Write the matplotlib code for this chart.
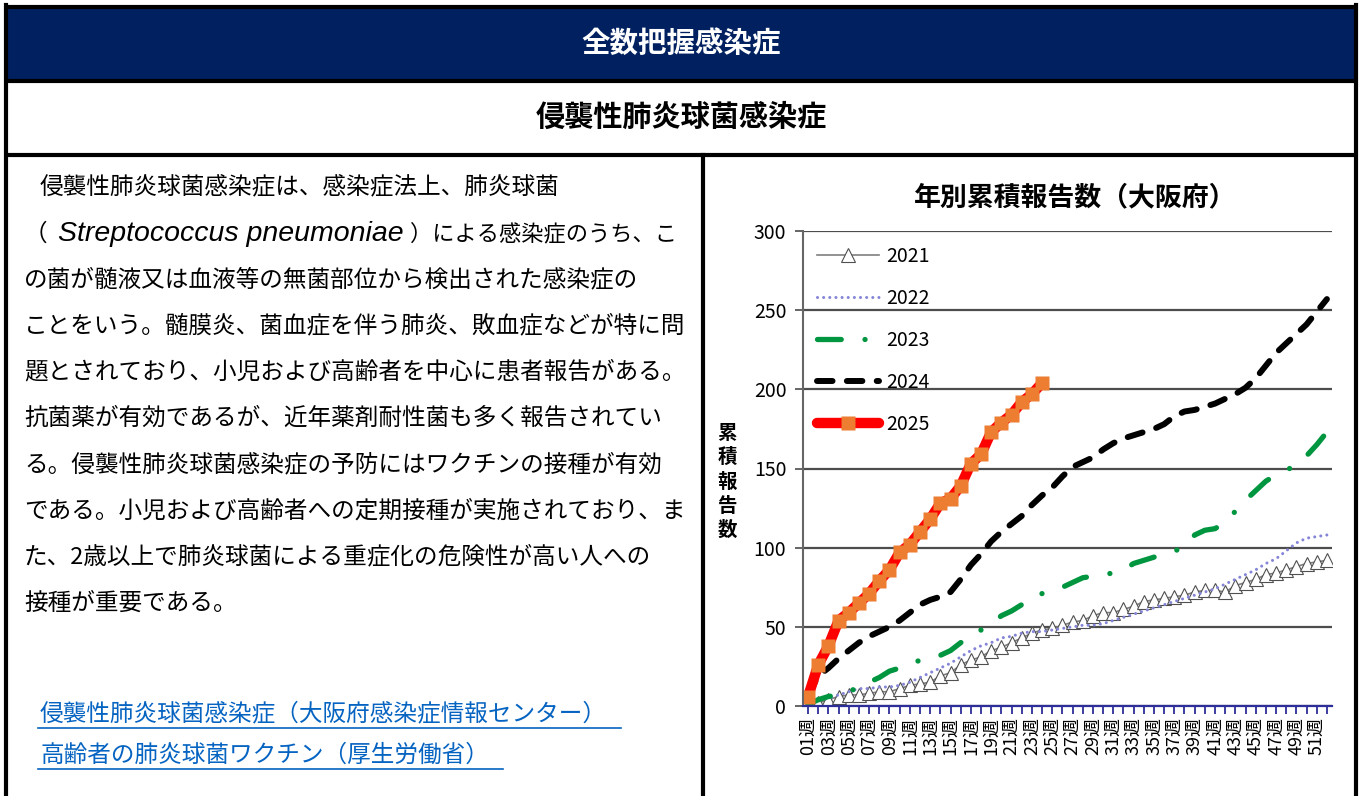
import matplotlib
matplotlib.use('Agg')
import matplotlib.pyplot as plt
from matplotlib.patches import Rectangle

plt.rcParams['font.family'] = ['Noto Sans CJK JP', 'DejaVu Sans']

# cumulative reports per week (Osaka)
weeks = list(range(1, 53))
week_labels = ['%02d週' % w for w in weeks]

cases_2021 = [0, 2, 4, 6, 7, 7, 8, 9, 9, 11, 13, 14, 15, 19, 21, 26, 29, 31, 35, 37,
              40, 43, 46, 48, 49, 51, 53, 54, 57, 59, 59, 61, 63, 66, 67, 68, 69, 70, 72, 73,
              73, 72, 76, 78, 80, 83, 84, 86, 88, 90, 91, 92]
cases_2022 = [1, 3, 5, 7, 9, 11, 11, 12, 12, 13, 15, 18, 21, 24, 27, 31, 35, 38, 40, 43,
              44, 46, 47, 47, 48, 49, 50, 51, 51, 52, 54, 56, 58, 60, 62, 64, 66, 68, 70, 72,
              74, 77, 80, 83, 86, 90, 93, 98, 103, 106, 107, 108]
cases_2023 = [1, 4, 6, 7, 9, 12, 15, 18, 22, 24, 26, 29, 31, 32, 35, 40, 43, 48, 52, 57,
              60, 64, 68, 71, 73, 75, 78, 81, 82, 83, 84, 86, 90, 92, 94, 96, 98, 100, 108, 111,
              112, 116, 123, 130, 136, 142, 146, 149, 152, 158, 165, 173]
cases_2024 = [7, 19, 24, 30, 35, 40, 44, 47, 50, 54, 59, 64, 67, 69, 72, 80, 89, 96, 104, 110,
              115, 120, 127, 133, 138, 145, 151, 154, 157, 162, 166, 169, 171, 173, 175, 178, 183, 186, 187, 189,
              191, 194, 197, 201, 207, 215, 223, 229, 235, 241, 249, 257]
cases_2025 = [6, 26, 38, 54, 59, 65, 71, 79, 86, 97, 102, 110, 118, 128, 131, 139, 153, 159, 173, 179,
              184, 192, 197, 204]

body_lines = [
    '侵襲性肺炎球菌感染症は、感染症法上、肺炎球菌',
    None,
    'の菌が髄液又は血液等の無菌部位から検出された感染症の',
    'ことをいう。髄膜炎、菌血症を伴う肺炎、敗血症などが特に問',
    '題とされており、小児および高齢者を中心に患者報告がある。',
    '抗菌薬が有効であるが、近年薬剤耐性菌も多く報告されてい',
    'る。侵襲性肺炎球菌感染症の予防にはワクチンの接種が有効',
    'である。小児および高齢者への定期接種が実施されており、ま',
    'た、2歳以上で肺炎球菌による重症化の危険性が高い人への',
    '接種が重要である。',
]
links = ['侵襲性肺炎球菌感染症（大阪府感染症情報センター）', '高齢者の肺炎球菌ワクチン（厚生労働省）']

W, H = 1364, 796
fig = plt.figure(figsize=(W / 100, H / 100), dpi=100)

# background axes in pixel coordinates for the table layout
bg = fig.add_axes([0, 0, 1, 1])
bg.set_xlim(0, W)
bg.set_ylim(H, 0)
bg.axis('off')

bg.add_patch(Rectangle((6, 7), 1350, 74, facecolor='#002060', edgecolor='none'))
bw = 3.0
bg.plot([6, 6], [5, H], color='black', lw=bw)
bg.plot([1356, 1356], [5, H], color='black', lw=bw)
bg.plot([703, 703], [155, H], color='black', lw=bw)
for y in [7, 81, 155]:
    bg.plot([4, 1358], [y, y], color='black', lw=bw, solid_capstyle='butt')

bg.text(681, 44, '全数把握感染症', color='white', fontsize=20.5, fontweight='bold', ha='center', va='center')
bg.text(681, 117, '侵襲性肺炎球菌感染症', color='black', fontsize=21, fontweight='bold', ha='center', va='center')

# left text cell
fs = 17
for i, line in enumerate(body_lines):
    y = 188 + 46.1 * i
    if line is None:
        bg.text(24, y, '（', fontsize=fs, va='center')
        bg.text(58, y, 'Streptococcus pneumoniae', fontsize=20.5, style='italic',
                family='Liberation Sans', va='center')
        bg.text(410, y, '）による感染症のうち、こ', fontsize=16, va='center')
    elif i == 0:
        bg.text(40, y, line, fontsize=fs, va='center')
    else:
        bg.text(24, y, line, fontsize=fs, va='center')

fig.canvas.draw()
r = fig.canvas.get_renderer()
for i, txt in enumerate(links):
    y = 714 + 41 * i
    t = bg.text(40, y, txt, fontsize=fs, color='#0563c1', va='center')
    bb = t.get_window_extent(renderer=r)
    x1 = bb.x1 + 14
    bg.plot([38, x1], [y + 14, y + 14], color='#0563c1', lw=1.2)

# chart cell
ax = fig.add_axes([803 / W, (H - 706) / H, (1332 - 803) / W, (706 - 231) / H])
ax.plot(weeks, cases_2021, color='#7f7f7f', lw=1.2, marker='^', ms=10,
        mfc='white', mec='#505050', mew=0.8, label='2021')
ax.plot(weeks, cases_2022, color='#8585d8', lw=2.2, dashes=(0.01, 2.0),
        dash_capstyle='round', label='2022')
ax.plot(weeks, cases_2023, color='#00953f', lw=3.8, dashes=(4.5, 4.5, 0.01, 4.5),
        dash_capstyle='round', label='2023')
ax.plot(weeks, cases_2024, color='black', lw=4.3, dashes=(2.6, 2.4),
        dash_capstyle='round', label='2024')
ax.plot(weeks[:len(cases_2025)], cases_2025, color='#ff0000', lw=7.5,
        solid_capstyle='round', marker='s', ms=10, mfc='#ed7d31', mec='none', label='2025')

ax.set_xlim(0.5, 52.5)
ax.set_ylim(0, 300)
ax.set_yticks(range(0, 301, 50))
ax.set_xticks(weeks)
ax.set_xticklabels([lab if w % 2 == 1 else '' for w, lab in zip(weeks, week_labels)],
                   rotation=90, fontsize=13)
ax.tick_params(axis='x', length=6, width=1.3, color='#2e2e9a', pad=2)
ax.tick_params(axis='y', length=6, width=1.3, color='#595959', labelsize=14, pad=6)
ax.grid(axis='y', color='#4d4d4d', lw=1.6)
ax.set_axisbelow(True)
for s in ['top', 'right']:
    ax.spines[s].set_visible(False)
ax.spines['left'].set_color('#666666')
ax.spines['left'].set_linewidth(1.5)
ax.spines['bottom'].set_color('#2e2e9a')
ax.spines['bottom'].set_linewidth(1.6)

leg = ax.legend(loc='upper left', bbox_to_anchor=(0.0, 0.997), frameon=False, fontsize=14,
                handlelength=3.2, handletextpad=0.4, labelspacing=1.08, borderaxespad=0.3,
                numpoints=1)

fig.text(1075 / W, 1 - 197 / H, '年別累積報告数（大阪府）', fontsize=19.4, fontweight='bold',
         ha='center', va='center')
fig.text(727 / W, 1 - 482 / H, '\n'.join('累積報告数'), fontsize=14, fontweight='bold',
         ha='center', va='center', linespacing=1.35)

fig.savefig('out.png', dpi=100)
